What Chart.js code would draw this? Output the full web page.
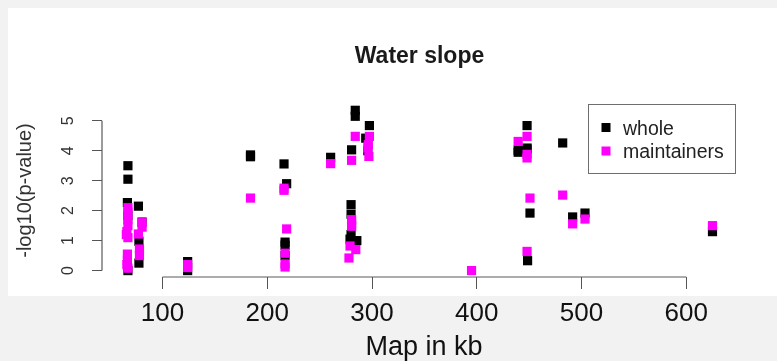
<!DOCTYPE html>
<html><head><meta charset="utf-8">
<script src="https://cdn.jsdelivr.net/npm/chart.js@4.4.1/dist/chart.umd.min.js"></script>
<style>html,body{margin:0;padding:0;background:#f2f2f2;overflow:hidden}#wrap{width:777px;height:361px;position:relative}canvas{display:block}</style>
</head><body><div id="wrap"><canvas id="c" width="777" height="361"></canvas></div>
<script>
const chartTitle = 'Water slope';
const xTitle = 'Map in kb';
const yTitle = '-log10(p-value)';
const seriesNames = ['whole', 'maintainers'];
const seriesColors = ['#000000', '#ff00ff'];
const xTicks = [100, 200, 300, 400, 500, 600];
const yTicks = [0, 1, 2, 3, 4, 5];

const wholeX = [67, 67, 66.5, 67, 67, 77, 80.5, 77.5, 77.5, 124, 124, 184, 184, 216, 218.5, 217, 217, 217, 260.5,
  280.5, 280, 280, 280, 279, 285.5, 284, 284, 297.5, 294, 296, 439.5, 439.5, 448, 448, 448, 448.5, 450.8, 482, 491.5, 503.3, 625];
const wholeY = [3.50, 3.05, 2.27, 1.83, 0.0, 2.15, 1.62, 0.98, 0.25, 0.30, 0.0, 3.86, 3.80, 3.56, 2.90, 0.95, 0.85, 0.50, 3.78,
  4.03, 2.20, 1.88, 1.20, 1.05, 1.00, 5.35, 5.15, 4.84, 4.42, 4.00, 4.02, 3.95, 4.84, 4.09, 4.05, 0.33, 1.92, 4.26, 1.79, 1.92, 1.30];

const maintX = [67, 67, 67, 67, 66, 65.5, 67, 66.5, 66.5, 66, 67, 80.5, 80.5, 77, 78, 78, 124, 124, 184, 216, 216, 218.5, 217, 217, 217, 260.5,
  280.5, 280.5, 280.5, 280.5, 279, 284.5, 278, 284, 297.5, 296.5, 296, 297, 395, 439.5, 448, 448, 448, 448, 450.8, 482, 491.5, 503.3, 625];
const maintY = [2.10, 1.95, 1.70, 1.50, 1.30, 1.20, 1.10, 0.55, 0.35, 0.20, 0.08, 1.60, 1.45, 1.22, 0.72, 0.50, 0.20, 0.10, 2.42, 2.75, 2.68, 1.39, 0.58, 0.22, 0.12, 3.57,
  3.68, 1.70, 1.55, 1.48, 0.82, 0.70, 0.42, 4.48, 4.48, 4.20, 4.10, 3.81, 0.0, 4.31, 4.48, 3.88, 3.76, 0.64, 2.42, 2.52, 1.56, 1.72, 1.50];

const toPts = (xs, ys) => xs.map((x, i) => ({x: x, y: ys[i]}));

const bgPlugin = {
  id: 'bg',
  beforeDraw(chart) {
    const ctx = chart.ctx;
    ctx.save();
    ctx.fillStyle = '#f2f2f2';
    ctx.fillRect(0, 0, chart.width, chart.height);
    ctx.fillStyle = '#ffffff';
    ctx.fillRect(8, 8, chart.width - 8, 288);
    ctx.restore();
  },
  beforeDatasetsDraw(chart) {
    const ctx = chart.ctx;
    const xs = chart.scales.x, ys = chart.scales.y;
    ctx.save();
    ctx.strokeStyle = '#5a5a5a';
    ctx.lineWidth = 1.2;
    ctx.beginPath();
    const by = chart.chartArea.bottom;
    ctx.moveTo(xs.getPixelForValue(xTicks[0]), by);
    ctx.lineTo(xs.getPixelForValue(xTicks[xTicks.length - 1]), by);
    const lx = chart.chartArea.left;
    ctx.moveTo(lx, ys.getPixelForValue(yTicks[0]));
    ctx.lineTo(lx, ys.getPixelForValue(yTicks[yTicks.length - 1]));
    ctx.stroke();
    ctx.restore();
  },
  afterDraw(chart) {
    const ctx = chart.ctx;
    const ca = chart.chartArea;
    ctx.save();
    ctx.fillStyle = '#1a1a1a';
    ctx.font = 'bold 23px "Liberation Sans", Arial, sans-serif';
    ctx.textAlign = 'center';
    ctx.textBaseline = 'alphabetic';
    ctx.fillText(chartTitle, 419.5, 63);
    ctx.save();
    ctx.translate(25, (ca.top + ca.bottom) / 2);
    ctx.rotate(-Math.PI / 2);
    ctx.font = '20px "Liberation Sans", Arial, sans-serif';
    ctx.fillStyle = '#333333';
    ctx.textBaseline = 'middle';
    ctx.fillText(yTitle, 0, 0);
    ctx.restore();
    ctx.font = '27px "Liberation Sans", Arial, sans-serif';
    ctx.fillStyle = '#111111';
    ctx.textBaseline = 'alphabetic';
    ctx.fillText(xTitle, 424, 355);
    ctx.strokeStyle = '#6e6e6e';
    ctx.lineWidth = 1;
    ctx.strokeRect(588.5, 104.5, 147, 69);
    const rows = [127.5, 151];
    ctx.font = '19.5px "Liberation Sans", Arial, sans-serif';
    ctx.textAlign = 'left';
    for (let i = 0; i < seriesNames.length; i++) {
      ctx.fillStyle = seriesColors[i];
      ctx.fillRect(601.5, rows[i] - 4.5, 9, 9);
      ctx.fillStyle = '#222222';
      ctx.fillText(seriesNames[i], 623, rows[i] + 7);
    }
    ctx.restore();
  }
};

new Chart(document.getElementById('c'), {
  type: 'scatter',
  data: {
    datasets: [
      {label: seriesNames[0], data: toPts(wholeX, wholeY), order: 2,
       backgroundColor: seriesColors[0], borderColor: seriesColors[0], borderWidth: 0,
       pointStyle: 'rect', pointRadius: 6.5, pointHoverRadius: 6.5},
      {label: seriesNames[1], data: toPts(maintX, maintY), order: 1,
       backgroundColor: seriesColors[1], borderColor: seriesColors[1], borderWidth: 0,
       pointStyle: 'rect', pointRadius: 6.5, pointHoverRadius: 6.5}
    ]
  },
  options: {
    responsive: false,
    animation: false,
    devicePixelRatio: 1,
    layout: {padding: {top: 104, left: 0, right: 40, bottom: 0}},
    plugins: {legend: {display: false}, title: {display: false}, tooltip: {enabled: false}},
    scales: {
      x: {
        type: 'linear', min: 42.25, max: 648.4,
        afterBuildTicks: s => { s.ticks = xTicks.map(v => ({value: v})); },
        afterFit: s => { s.height = 84; },
        border: {display: false},
        grid: {display: true, drawOnChartArea: false, drawTicks: true, tickLength: 12, color: '#555555', lineWidth: 1},
        ticks: {autoSkip: false, maxRotation: 0, minRotation: 0, padding: 9, color: '#111111',
          font: {family: '"Liberation Sans", Arial, sans-serif', size: 26}}
      },
      y: {
        type: 'linear', min: -0.214, max: 5.56,
        afterBuildTicks: s => { s.ticks = yTicks.map(v => ({value: v})); },
        afterFit: s => { s.width = 102; },
        border: {display: false},
        grid: {display: true, drawOnChartArea: false, drawTicks: true, tickLength: 10, color: '#555555', lineWidth: 1},
        ticks: {minRotation: 90, maxRotation: 90, crossAlign: 'center', padding: 18.5, color: '#333333',
          font: {family: '"Liberation Sans", Arial, sans-serif', size: 16}}
      }
    }
  },
  plugins: [bgPlugin]
});
</script>
</body></html>
